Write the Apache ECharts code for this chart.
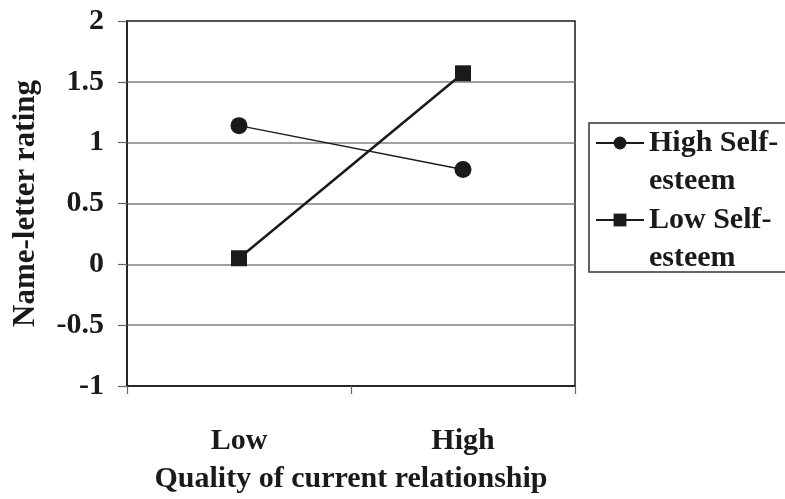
<!DOCTYPE html>
<html>
<head>
<meta charset="utf-8">
<script src="https://cdn.jsdelivr.net/npm/echarts@6/dist/echarts.min.js"></script>
<style>html,body{margin:0;padding:0;background:#fff}#c{width:785px;height:499px}</style>
</head>
<body>
<div id="c"></div>
<script>
const categories = ['Low', 'High'];
const highSelfEsteem = [1.14, 0.78];
const lowSelfEsteem = [0.05, 1.57];
const seriesNames = ['High Self-esteem', 'Low Self-esteem'];
const yTicks = { min: -1, max: 2, interval: 0.5 };
const xTitle = 'Quality of current relationship';
const yTitle = 'Name-letter rating';

const FONT = '"Liberation Serif", "Times New Roman", serif';
const INK = '#1a1a1a';
const chart = echarts.init(document.getElementById('c'), null, { renderer: 'canvas' });
chart.setOption({
  animation: false,
  backgroundColor: '#fff',
  textStyle: { fontFamily: FONT },
  grid: { left: 127, right: 210, top: 21, bottom: 111, show: true, borderColor: INK, borderWidth: 1.5, backgroundColor: 'transparent' },
  xAxis: {
    type: 'category',
    data: categories,
    boundaryGap: true,
    axisLine: { onZero: false, lineStyle: { color: INK, width: 1.5 } },
    axisTick: { show: true, length: 8, lineStyle: { color: '#666', width: 1.2 } },
    axisLabel: { margin: 40, fontFamily: FONT, fontWeight: 'bold', fontSize: 30, color: INK },
    name: xTitle,
    nameLocation: 'middle',
    nameGap: 78,
    nameTextStyle: { fontFamily: FONT, fontWeight: 'bold', fontSize: 30, color: INK }
  },
  yAxis: {
    type: 'value',
    min: yTicks.min, max: yTicks.max, interval: yTicks.interval,
    axisLine: { show: true, onZero: false, lineStyle: { color: INK, width: 1.5 } },
    axisTick: { show: true, length: 9, lineStyle: { color: '#666', width: 1.2 } },
    splitLine: { show: true, showMinLine: false, showMaxLine: false, lineStyle: { color: '#808080', width: 1.5 } },
    axisLabel: { margin: 23, fontFamily: FONT, fontWeight: 'bold', fontSize: 30, color: INK },
    name: yTitle,
    nameLocation: 'middle',
    nameGap: 86,
    nameRotate: 90,
    nameTextStyle: { fontFamily: FONT, fontWeight: 'bold', fontSize: 31, color: INK }
  },
  legend: {
    orient: 'vertical',
    left: 595,
    top: 86,
    padding: 0,
    itemGap: -37,
    itemWidth: 48,
    itemHeight: 16,
    data: seriesNames,
    formatter: function (n) { return '\n' + n.replace('Self-esteem', 'Self-\nesteem'); },
    textStyle: { fontFamily: FONT, fontWeight: 'bold', fontSize: 30, lineHeight: 38, color: INK }
  },
  graphic: [{
    type: 'rect', silent: true,
    shape: { x: 589, y: 123, width: 205, height: 149 },
    style: { fill: 'none', stroke: '#333', lineWidth: 1.5 }
  }],
  series: [
    {
      name: seriesNames[0], type: 'line', data: highSelfEsteem,
      symbol: 'circle', symbolSize: 17,
      lineStyle: { color: INK, width: 1.5 },
      itemStyle: { color: INK }
    },
    {
      name: seriesNames[1], type: 'line', data: lowSelfEsteem,
      symbol: 'rect', symbolSize: 16,
      lineStyle: { color: INK, width: 2.5 },
      itemStyle: { color: INK }
    }
  ]
});
</script>
</body>
</html>
